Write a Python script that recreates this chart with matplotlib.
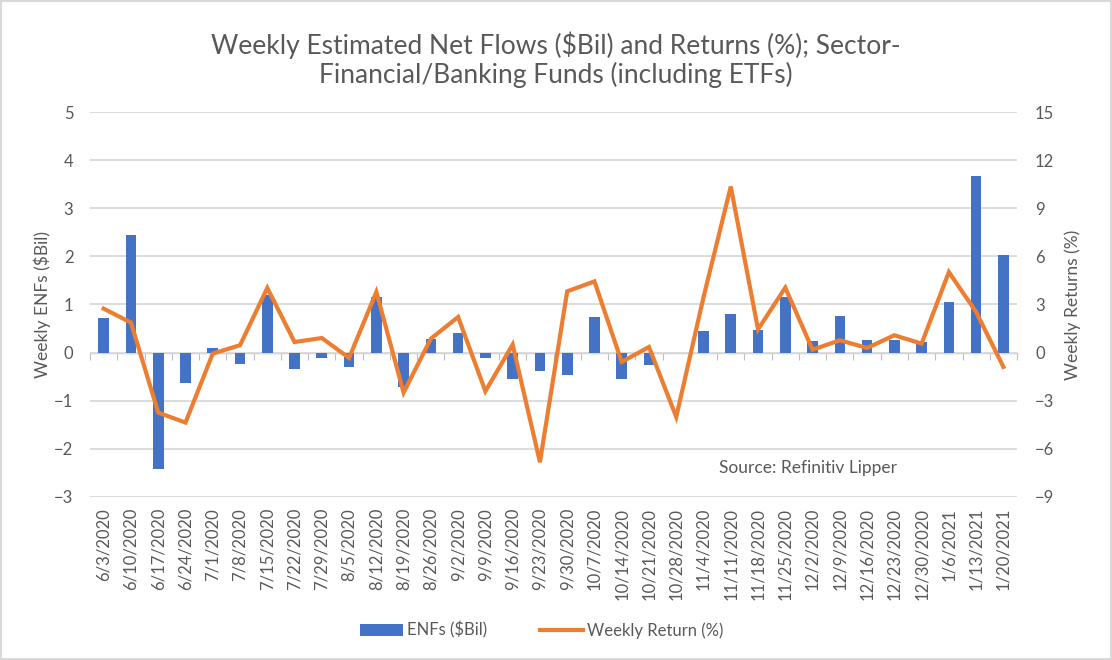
import matplotlib
matplotlib.use("Agg")
import matplotlib.pyplot as plt
import numpy as np

dates = ["6/3/2020", "6/10/2020", "6/17/2020", "6/24/2020", "7/1/2020", "7/8/2020",
         "7/15/2020", "7/22/2020", "7/29/2020", "8/5/2020", "8/12/2020", "8/19/2020",
         "8/26/2020", "9/2/2020", "9/9/2020", "9/16/2020", "9/23/2020", "9/30/2020",
         "10/7/2020", "10/14/2020", "10/21/2020", "10/28/2020", "11/4/2020", "11/11/2020",
         "11/18/2020", "11/25/2020", "12/2/2020", "12/9/2020", "12/16/2020", "12/23/2020",
         "12/30/2020", "1/6/2021", "1/13/2021", "1/20/2021"]

enfs = [0.72, 2.45, -2.41, -0.64, 0.10, -0.23, 1.20, -0.35, -0.12, -0.30, 1.15, -0.71,
        0.28, 0.41, -0.12, -0.54, -0.39, -0.47, 0.74, -0.54, -0.25, 0.0, 0.45, 0.80,
        0.48, 1.16, 0.24, 0.76, 0.27, 0.27, 0.22, 1.05, 3.67, 2.02]

returns = [2.74, 1.87, -3.74, -4.36, -0.06, 0.46, 4.03, 0.66, 0.91, -0.33, 3.78, -2.49,
           0.87, 2.22, -2.41, 0.50, -6.83, 3.82, 4.44, -0.58, 0.35, -4.01, 3.45, 10.35,
           1.45, 4.05, 0.18, 0.77, 0.29, 1.08, 0.56, 5.02, 2.53, -0.89]

left_ticks = [-3, -2, -1, 0, 1, 2, 3, 4, 5]
right_ticks = [-9, -6, -3, 0, 3, 6, 9, 12, 15]

TXT = "#595959"
GRID = "#D9D9D9"
BLUE = "#4472C4"
ORANGE = "#ED7D31"
plt.rcParams['font.family'] = ['Lato', 'DejaVu Sans']

fig = plt.figure(figsize=(11.12, 6.6), dpi=100)
ax = fig.add_axes([0.081, 0.247, 0.8336, 0.5833])
x = np.arange(len(dates))

ax.bar(x, enfs, width=0.39, color=BLUE, zorder=3, label="ENFs ($Bil)")
ax.set_xlim(-0.5, len(dates) - 0.5)
ax.set_ylim(left_ticks[0], left_ticks[-1])
ax.set_yticks(left_ticks)
ax.grid(axis='y', color=GRID, linewidth=1.3, zorder=0)
ax.set_axisbelow(True)
for s in ax.spines.values():
    s.set_visible(False)
ax.set_xticks(x)
ax.set_xticklabels(dates, rotation=90, fontsize=12, color=TXT)
ax.tick_params(axis='x', length=0, pad=8)
ax.tick_params(axis='y', length=0, labelsize=12, colors=TXT, pad=12)

# category axis line at zero with boundary ticks
sec = ax.secondary_xaxis(3 / 8)
sec.spines['bottom'].set_color("#BFBFBF")
sec.spines['bottom'].set_linewidth(1.0)
sec.set_xticks(np.arange(-0.5, len(dates), 1.0))
sec.tick_params(axis='x', direction='out', length=5, color="#BFBFBF", labelbottom=False)

ax2 = ax.twinx()
ax2.plot(x, returns, color=ORANGE, linewidth=3.0, zorder=4, label="Weekly Return (%)",
         solid_joinstyle='miter')
ax2.set_ylim(right_ticks[0], right_ticks[-1])
ax2.set_yticks(right_ticks)
for s in ax2.spines.values():
    s.set_visible(False)
ax2.tick_params(axis='y', length=0, labelsize=12, colors=TXT, pad=13)

fig.text(0.038, 0.538, "Weekly ENFs ($Bil)", rotation=90, ha='center', va='center',
         fontsize=12.5, color=TXT)
fig.text(0.965, 0.538, "Weekly Returns (%)", rotation=90, ha='center', va='center',
         fontsize=12.5, color=TXT)

fig.text(0.5, 0.932, "Weekly Estimated Net Flows ($Bil) and Returns (%); Sector-",
         ha='center', va='center', fontsize=19, color=TXT)
fig.text(0.5, 0.886, "Financial/Banking Funds (including ETFs)",
         ha='center', va='center', fontsize=19, color=TXT)

ax.text(0.679, 0.075, "Source: Refinitiv Lipper", transform=ax.transAxes,
        ha='left', va='center', fontsize=12.5, color=TXT)

h1, l1 = ax.get_legend_handles_labels()
h2, l2 = ax2.get_legend_handles_labels()
fig.legend(h1 + h2, l1 + l2, loc='center', bbox_to_anchor=(0.487, 0.045), ncol=2,
           frameon=False, fontsize=12, labelcolor=TXT, handlelength=2.6,
           handletextpad=0.2, columnspacing=3.2)

border = plt.Rectangle((0.001, 0.001), 0.998, 0.997, transform=fig.transFigure,
                       fill=False, edgecolor=GRID, linewidth=1.5)
fig.patches.append(border)

fig.savefig("out.png", dpi=100, facecolor='white')
